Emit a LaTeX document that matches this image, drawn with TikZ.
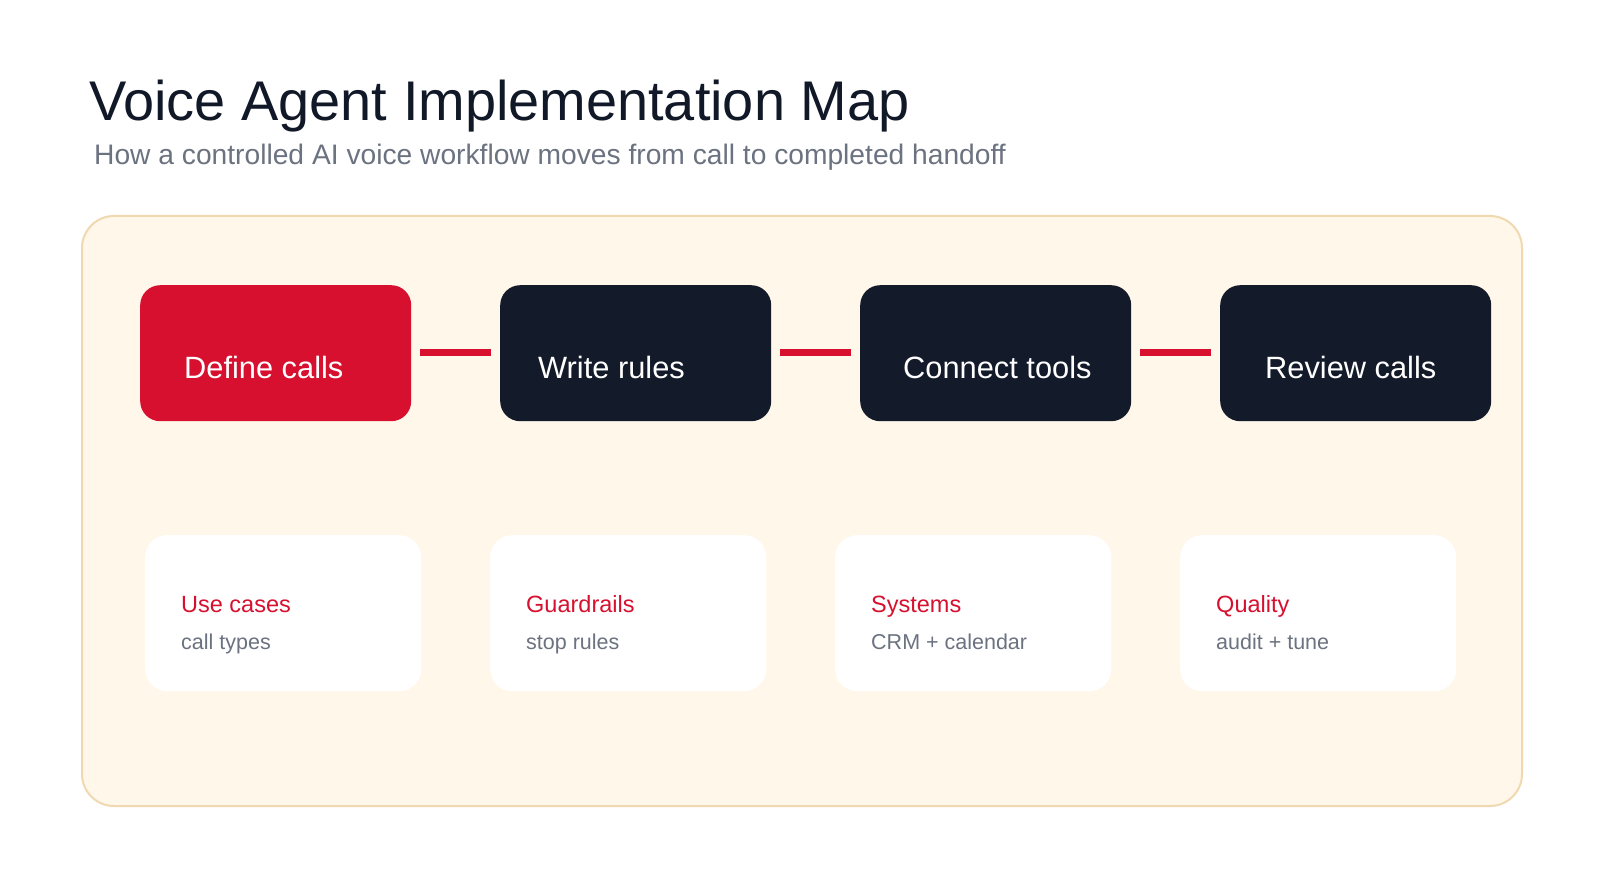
\documentclass[tikz,border=0pt]{standalone}
\usepackage{fontspec}
\setmainfont{Liberation Sans}
\definecolor{accent}{HTML}{D6102E}
\definecolor{navy}{HTML}{131A2A}
\definecolor{panelfill}{HTML}{FFF7EA}
\definecolor{panelline}{HTML}{F0D9B0}
\definecolor{subgray}{HTML}{6B7280}
\definecolor{titlecol}{HTML}{111827}
\tikzset{
  stepbox/.style={rectangle, rounded corners=20pt, minimum width=271pt, minimum height=136pt, inner sep=0pt, draw=none, anchor=north west},
  cardbox/.style={rectangle, rounded corners=22pt, minimum width=276pt, minimum height=156pt, inner sep=0pt, draw=none, fill=white, anchor=north west},
  steplabel/.style={anchor=base west, inner sep=0pt, text=white, font=\fontsize{30.8}{34}\selectfont},
  cardhead/.style={anchor=base west, inner sep=0pt, text=accent, font=\fontsize{23.5}{27}\selectfont},
  cardsub/.style={anchor=base west, inner sep=0pt, text=subgray, font=\fontsize{21.5}{25}\selectfont},
  link/.style={draw=accent, line width=7pt}
}
\begin{document}
\begin{tikzpicture}[x=1pt, y=-1pt]
\useasboundingbox[fill=white] (0,0) rectangle (1600,893);
% title
\node[anchor=base west, inner sep=0pt, text=titlecol, font=\fontsize{55.9}{60}\selectfont] (title) at (89,121) {Voice Agent Implementation Map};
\node[anchor=base west, inner sep=0pt, text=subgray, font=\fontsize{28.2}{32}\selectfont] (subtitle) at (94,165) {How a controlled AI voice workflow moves from call to completed handoff};
% panel
\node[rectangle, rounded corners=32pt, draw=panelline, line width=2pt, fill=panelfill, minimum width=1440pt, minimum height=590pt, anchor=north west, inner sep=0pt] (panel) at (81,215) {};
% step boxes
\node[stepbox, fill=accent] (s1) at (140,285) {};
\node[stepbox, fill=navy] (s2) at (500,285) {};
\node[stepbox, fill=navy] (s3) at (860,285) {};
\node[stepbox, fill=navy] (s4) at (1220,285) {};
\node[steplabel] (l1) at (184,378) {Define calls};
\node[steplabel] (l2) at (538,378) {Write rules};
\node[steplabel] (l3) at (903,378) {Connect tools};
\node[steplabel] (l4) at (1265,378) {Review calls};
% connectors
\draw[link] ([xshift=9pt,yshift=1pt]s1.east) -- ([xshift=-9pt,yshift=1pt]s2.west);
\draw[link] ([xshift=9pt,yshift=1pt]s2.east) -- ([xshift=-9pt,yshift=1pt]s3.west);
\draw[link] ([xshift=9pt,yshift=1pt]s3.east) -- ([xshift=-9pt,yshift=1pt]s4.west);
% cards
\node[cardbox] (c1) at (145,535) {};
\node[cardbox] (c2) at (490,535) {};
\node[cardbox] (c3) at (835,535) {};
\node[cardbox] (c4) at (1180,535) {};
\node[cardhead] (h1) at (181,612) {Use cases};
\node[cardsub] (t1) at (181,649) {call types};
\node[cardhead] (h2) at (526,612) {Guardrails};
\node[cardsub] (t2) at (526,649) {stop rules};
\node[cardhead] (h3) at (871,612) {Systems};
\node[cardsub] (t3) at (871,649) {CRM + calendar};
\node[cardhead] (h4) at (1216,612) {Quality};
\node[cardsub] (t4) at (1216,649) {audit + tune};
\end{tikzpicture}
\end{document}
